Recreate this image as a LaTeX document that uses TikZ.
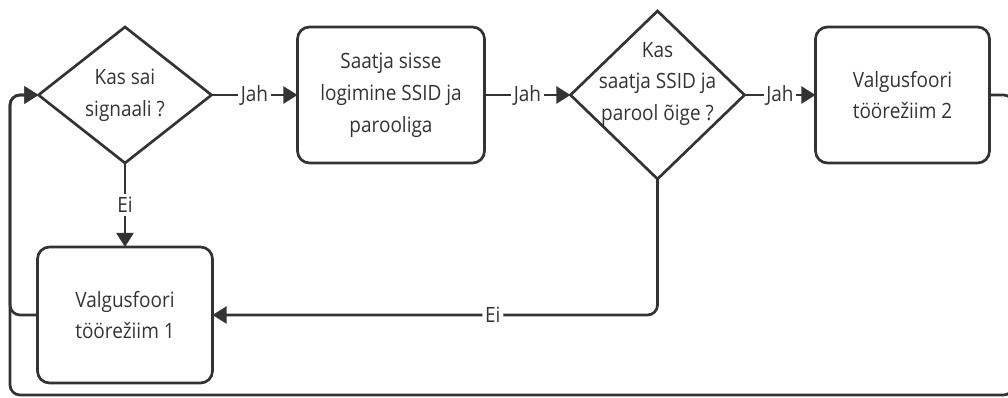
\documentclass[tikz,border=0pt]{standalone}
\usepackage{fontspec}
\setmainfont{Open Sans}[FakeStretch=0.9]
\usetikzlibrary{shapes.geometric,positioning,arrows.meta}

\definecolor{ink}{HTML}{333333}

\begin{document}
\begin{tikzpicture}
    [font=\fontsize{15}{22.7}\selectfont, color=ink, line width=1.9pt,
     >={Triangle[length=10pt,width=12pt]},
     box/.style={draw,rounded corners=0.3cm,minimum height=3.4cm,align=center,outer sep=0pt},
     decision/.style={draw,diamond,inner sep=0pt,outer sep=0pt},
     answer/.style={fill=white,inner sep=2pt,midway}]
\useasboundingbox (0,0) rectangle (25.2,-9.925);
\path
    (3.125,-2.375) node [decision,minimum width=4.325cm,minimum height=3.4cm,
        label={[align=center]center:Kas sai\\signaali ?}] (signal) {}
    node [box,minimum width=4.675cm,right=2.15cm of signal]
        (login) {Saatja sisse\\logimine SSID ja\\parooliga}
    node [decision,minimum width=4.35cm,minimum height=4.2cm,right=2.15cm of login,
        label={[align=center,yshift=0.275cm]center:Kas\\saatja SSID ja\\parool õige ?}] (check) {}
    node [box,minimum width=4.35cm,right=1.775cm of check]
        (mode2) {Valgusfoori\\töörežiim 2}
    node [box,minimum width=4.375cm,below=2.1cm of signal]
        (mode1) {Valgusfoori\\töörežiim 1};
\coordinate (rail) at (0.25,-9.875);
% main line
\draw [->] (signal.east) -- node [answer] {Jah} (login.west);
\draw [->] (login.east) -- node [answer] {Jah} (check.west);
\draw [->] (check.east) -- node [answer] {Jah} (mode2.west);
% the "no" branches
\draw [->] (signal.south) -- node [answer] {Ei} (mode1.north);
\draw [->,rounded corners=0.25cm] (check.south) |- node [answer,pos=0.685] {Ei} (mode1.east);
% back to the start
\draw [->,rounded corners=0.25cm] (mode1.west) -| (rail |- signal) -- (signal.west);
\draw [->,rounded corners=0.25cm] (mode2.east) -- ++(0.6,0) |- (rail) |- (signal.west);
\end{tikzpicture}
\end{document}
